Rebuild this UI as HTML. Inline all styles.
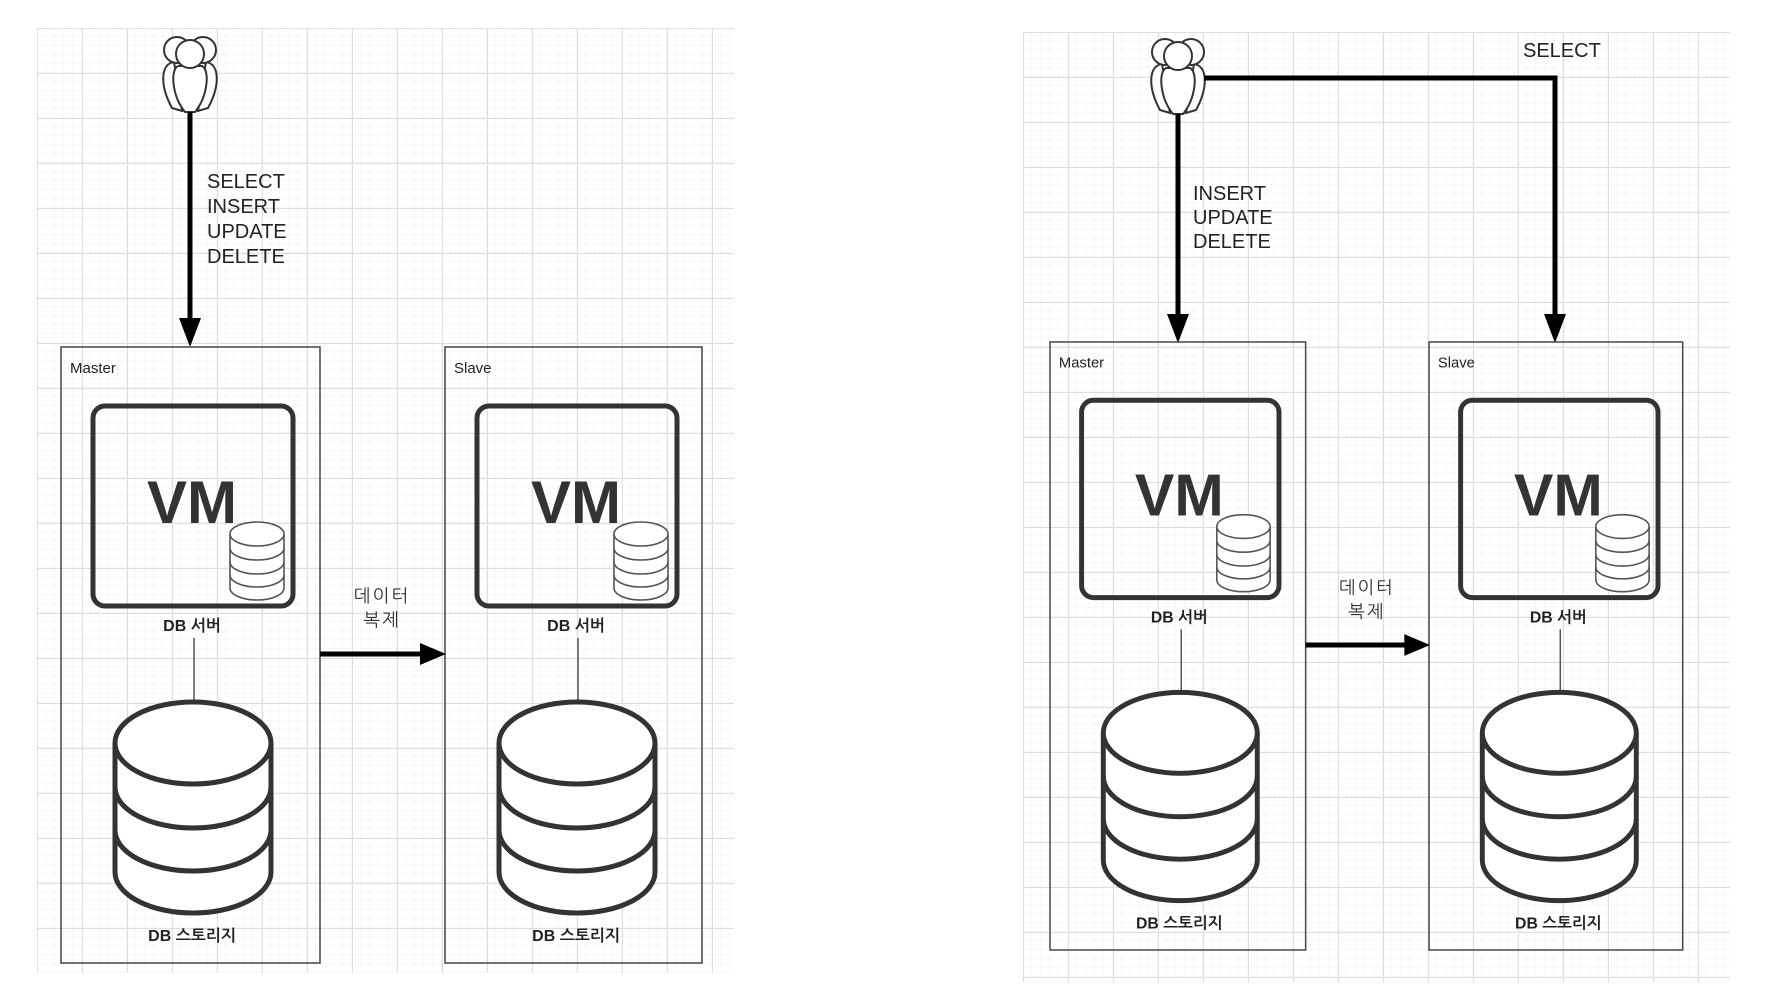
<!DOCTYPE html>
<html><head><meta charset="utf-8"><style>
html,body{margin:0;padding:0;background:#fff;}
svg{display:block;}
text{font-family:"Liberation Sans","NanumGothic","Noto Sans CJK KR",sans-serif;}
</style></head><body>
<svg width="1770" height="986" viewBox="0 0 1770 986" xmlns="http://www.w3.org/2000/svg">
<defs>
<pattern id="minor" width="9" height="9" patternUnits="userSpaceOnUse">
<path d="M9 0V9M0 9H9" stroke="#f2f2f2" stroke-width="1" fill="none"/>
</pattern>
<pattern id="majorL" x="37" y="28" width="45" height="45" patternUnits="userSpaceOnUse">
<rect width="45" height="45" fill="url(#minor)"/>
<path d="M0.5 0V45M0 0.5H45" stroke="#dedede" stroke-width="1" fill="none"/>
</pattern>
<pattern id="majorR" x="1023" y="32" width="45" height="45" patternUnits="userSpaceOnUse">
<rect width="45" height="45" fill="url(#minor)"/>
<path d="M0.5 0V45M0 0.5H45" stroke="#dedede" stroke-width="1" fill="none"/>
</pattern>
<g id="person" fill="#fff" stroke="#333" stroke-width="2">
<path d="M-16 -12 C-30 -10 -30 12 -18 34 L-8 37 Z"/>
<path d="M16 -12 C30 -10 30 12 18 34 L8 37 Z"/>
<circle cx="-13" cy="-24" r="13"/>
<circle cx="13" cy="-24" r="13"/>
<path d="M-12 -8 C-20 -4 -18 22 -5 38 L5 38 C18 22 20 -4 12 -8 Z"/>
<circle cx="0" cy="-20" r="14"/>
</g>
<g id="col">
<rect x="93" y="406" width="200" height="200" rx="12" fill="none" stroke="#333" stroke-width="5"/>
<text x="192" y="523" text-anchor="middle" font-size="60" font-weight="bold" fill="#333">VM</text>
<g fill="#fff" stroke="#555" stroke-width="1.6">
<path d="M230 534 V588 A27 12 0 0 0 284 588 V534"/>
<ellipse cx="257" cy="534" rx="27" ry="12"/>
<path d="M230 548 A27 12 0 0 0 284 548 M230 562 A27 12 0 0 0 284 562 M230 575 A27 12 0 0 0 284 575" fill="none"/>
</g>
<text x="192" y="631" text-anchor="middle" font-size="16" font-weight="bold" fill="#222">DB 서버</text>
<line x1="194" y1="638" x2="194" y2="702" stroke="#555" stroke-width="1.5"/>
<g fill="#fff" stroke="#333" stroke-width="5">
<path d="M115 743 V872 A78 41 0 0 0 271 872 V743"/>
<ellipse cx="193" cy="743" rx="78" ry="41"/>
<path d="M115 787 A78 41 0 0 0 271 787 M115 830 A78 41 0 0 0 271 830" fill="none"/>
</g>
<text x="192" y="941" text-anchor="middle" font-size="16" font-weight="bold" fill="#222">DB 스토리지</text>
</g>
<g id="pair">
<rect x="61" y="347" width="259" height="616" fill="none" stroke="#444" stroke-width="1.5"/>
<text x="70" y="373" font-size="15" fill="#222">Master</text>
<use href="#col"/>
<rect x="445" y="347" width="257" height="616" fill="none" stroke="#444" stroke-width="1.5"/>
<text x="454" y="373" font-size="15" fill="#222">Slave</text>
<use href="#col" transform="translate(384,0)"/>
<line x1="320" y1="654" x2="424" y2="654" stroke="#000" stroke-width="5"/>
<path d="M446 654 L420 643 L420 665 Z" fill="#000"/>
<text x="382" y="602" text-anchor="middle" font-size="18" fill="#333" letter-spacing="2">데이터</text>
<text x="382" y="626" text-anchor="middle" font-size="18" fill="#333" letter-spacing="2">복제</text>
</g>
</defs>

<rect x="37" y="28" width="697" height="945" fill="url(#majorL)"/>
<rect x="1023" y="32" width="707" height="950" fill="url(#majorR)"/>

<use href="#person" transform="translate(190,74)"/>
<line x1="190" y1="112" x2="190" y2="322" stroke="#000" stroke-width="5"/>
<path d="M190 347 L179 318 L201 318 Z" fill="#000"/>
<g font-size="20" fill="#222">
<text x="207" y="188">SELECT</text>
<text x="207" y="213">INSERT</text>
<text x="207" y="238">UPDATE</text>
<text x="207" y="263">DELETE</text>
</g>
<use href="#pair"/>

<use href="#person" transform="translate(1178,76)"/>
<line x1="1178" y1="114" x2="1178" y2="318" stroke="#000" stroke-width="5"/>
<path d="M1178 343 L1167 314 L1189 314 Z" fill="#000"/>
<polyline points="1204,78 1555,78 1555,318" fill="none" stroke="#000" stroke-width="5"/>
<path d="M1555 343 L1544 314 L1566 314 Z" fill="#000"/>
<text x="1523" y="57" font-size="20" fill="#222">SELECT</text>
<g font-size="20" fill="#222">
<text x="1193" y="200">INSERT</text>
<text x="1193" y="224">UPDATE</text>
<text x="1193" y="248">DELETE</text>
</g>
<use href="#pair" transform="translate(989.8,-0.5) scale(0.987)"/>
</svg>
</body></html>
